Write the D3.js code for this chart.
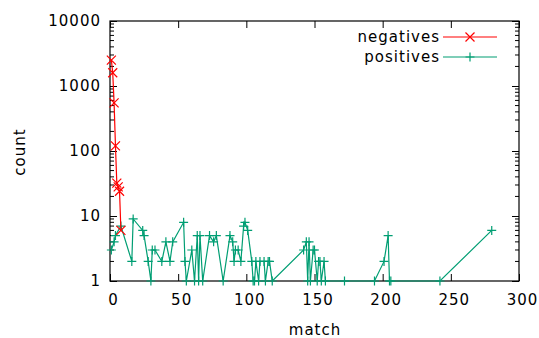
<!DOCTYPE html>
<html><head><meta charset="utf-8">
<script src="https://cdn.jsdelivr.net/npm/d3@7"></script>
<style>
body{margin:0;background:#fff}
text{font-family:"DejaVu Sans",sans-serif;font-size:15px;fill:#000;letter-spacing:1px}
</style>
</head><body><svg id="c" width="539" height="338"></svg>
<script>
const xTicks = [0, 50, 100, 150, 200, 250, 300];
const yTicks = [1, 10, 100, 1000, 10000];
const yTickLabels = ["1", "10", "100", "1000", "10000"];
const seriesNames = ["negatives", "positives"];
const seriesColors = ["#ff0000", "#009e73"];

const negMatch = [1, 2, 3, 4, 5, 6, 7, 8];
const negCount = [2500, 1600, 550, 120, 32, 28, 24, 6];

const posMatch = [1, 3, 4, 8, 16, 17, 24, 25, 28, 30, 31, 33, 38, 41, 44, 46, 54, 55, 56, 60,
  62, 64, 65, 66, 68, 73, 76, 78, 83, 88, 90, 91, 92, 94, 96, 98, 99, 101, 104, 105,
  106, 107, 109, 110, 113, 114, 116, 117, 119, 142, 144, 145, 146, 147, 149, 150, 152, 153, 154, 155,
  157, 158, 172, 194, 201, 204, 205, 206, 242, 280];
const posCount = [3, 4, 5, 7, 2, 9, 6, 5, 2, 1, 3, 3, 2, 4, 2, 4, 8, 2, 1, 3,
  1, 5, 1, 5, 1, 5, 4, 5, 1, 5, 4, 2, 3, 3, 2, 7, 8, 6, 2, 1,
  1, 2, 1, 2, 2, 1, 2, 2, 1, 3, 4, 1, 4, 1, 3, 3, 1, 2, 2, 1,
  2, 1, 1, 1, 2, 5, 1, 1, 1, 6];

const svg = d3.select("#c");
const L = 110, R = 519, T = 21, B = 281;
const x = d3.scaleLinear().domain([0, 300]).range([L, R]);
const y = d3.scaleLog().domain([1, 10000]).range([B, T]);

const gb = svg.append("g").attr("transform", `translate(0,${B})`)
  .call(d3.axisBottom(x).tickValues(xTicks).tickSize(-7).tickPadding(13).tickFormat(d3.format("d")));
const gt = svg.append("g").attr("transform", `translate(0,${T})`)
  .call(d3.axisTop(x).tickValues(xTicks).tickSize(-7).tickFormat(""));
const gl = svg.append("g").attr("transform", `translate(${L},0)`)
  .call(d3.axisLeft(y).tickValues(yTicks).tickSize(-7).tickPadding(9).tickFormat((d, i) => yTickLabels[i]));
const gr = svg.append("g").attr("transform", `translate(${R},0)`)
  .call(d3.axisRight(y).tickValues(yTicks).tickSize(-7).tickFormat(""));
[gb, gt, gl, gr].forEach(g => {
  g.select(".domain").remove();
  g.selectAll("line").attr("stroke", "#000");
  g.selectAll("text").attr("font-family", "DejaVu Sans").attr("font-size", 15).attr("fill", "#000");
});
gb.selectAll("text").attr("dx", "3");

const minor = [];
for (let k = 0; k < 4; k++) for (let m = 2; m <= 9; m++) minor.push(m * Math.pow(10, k));
svg.append("g").selectAll("line.ml").data(minor).join("line")
  .attr("x1", L).attr("x2", L + 4).attr("y1", d => y(d)).attr("y2", d => y(d)).attr("stroke", "#000");
svg.append("g").selectAll("line.mr").data(minor).join("line")
  .attr("x1", R).attr("x2", R - 4).attr("y1", d => y(d)).attr("y2", d => y(d)).attr("stroke", "#000");

svg.append("rect").attr("x", L).attr("y", T).attr("width", R - L).attr("height", B - T)
  .attr("fill", "none").attr("stroke", "#000").attr("stroke-width", 1.2);

svg.append("clipPath").attr("id", "clip").append("rect")
  .attr("x", L).attr("y", T).attr("width", R - L).attr("height", B - T + 1);

const line = d3.line().x(d => x(d[0])).y(d => y(d[1]));
const neg = negMatch.map((m, i) => [m, negCount[i]]);
const pos = posMatch.map((m, i) => [m, posCount[i]]);

const s = 4.5;
function crossPath(cx, cy) { return `M${cx - s},${cy - s}L${cx + s},${cy + s}M${cx - s},${cy + s}L${cx + s},${cy - s}`; }
function plusPath(cx, cy) { return `M${cx - s},${cy}L${cx + s},${cy}M${cx},${cy - s}L${cx},${cy + s}`; }

svg.append("path").datum(pos).attr("d", line).attr("fill", "none")
  .attr("stroke", seriesColors[1]).attr("stroke-width", 1.2).attr("clip-path", "url(#clip)");
svg.append("g").selectAll("path").data(pos).join("path")
  .attr("d", d => plusPath(x(d[0]), y(d[1]))).attr("stroke", seriesColors[1]).attr("stroke-width", 1.2);

svg.append("path").datum(neg).attr("d", line).attr("fill", "none")
  .attr("stroke", seriesColors[0]).attr("stroke-width", 1.2).attr("clip-path", "url(#clip)");
svg.append("g").selectAll("path").data(neg).join("path")
  .attr("d", d => crossPath(x(d[0]), y(d[1]))).attr("stroke", seriesColors[0]).attr("stroke-width", 1.2);

const legY = [37, 57];
seriesNames.forEach((n, i) => {
  svg.append("text").attr("x", 440).attr("y", legY[i]).attr("dy", "0.35em")
    .attr("text-anchor", "end").text(n);
  svg.append("line").attr("x1", 443).attr("x2", 497).attr("y1", legY[i]).attr("y2", legY[i])
    .attr("stroke", seriesColors[i]).attr("stroke-width", 1.2);
  svg.append("path").attr("d", i === 0 ? crossPath(470, legY[i]) : plusPath(470, legY[i]))
    .attr("stroke", seriesColors[i]).attr("stroke-width", 1.2);
});

svg.append("text").attr("x", 315).attr("y", 335).attr("text-anchor", "middle").text("match");
svg.append("text").attr("transform", "translate(25,152) rotate(-90)").attr("text-anchor", "middle").text("count");
</script>
</body></html>
